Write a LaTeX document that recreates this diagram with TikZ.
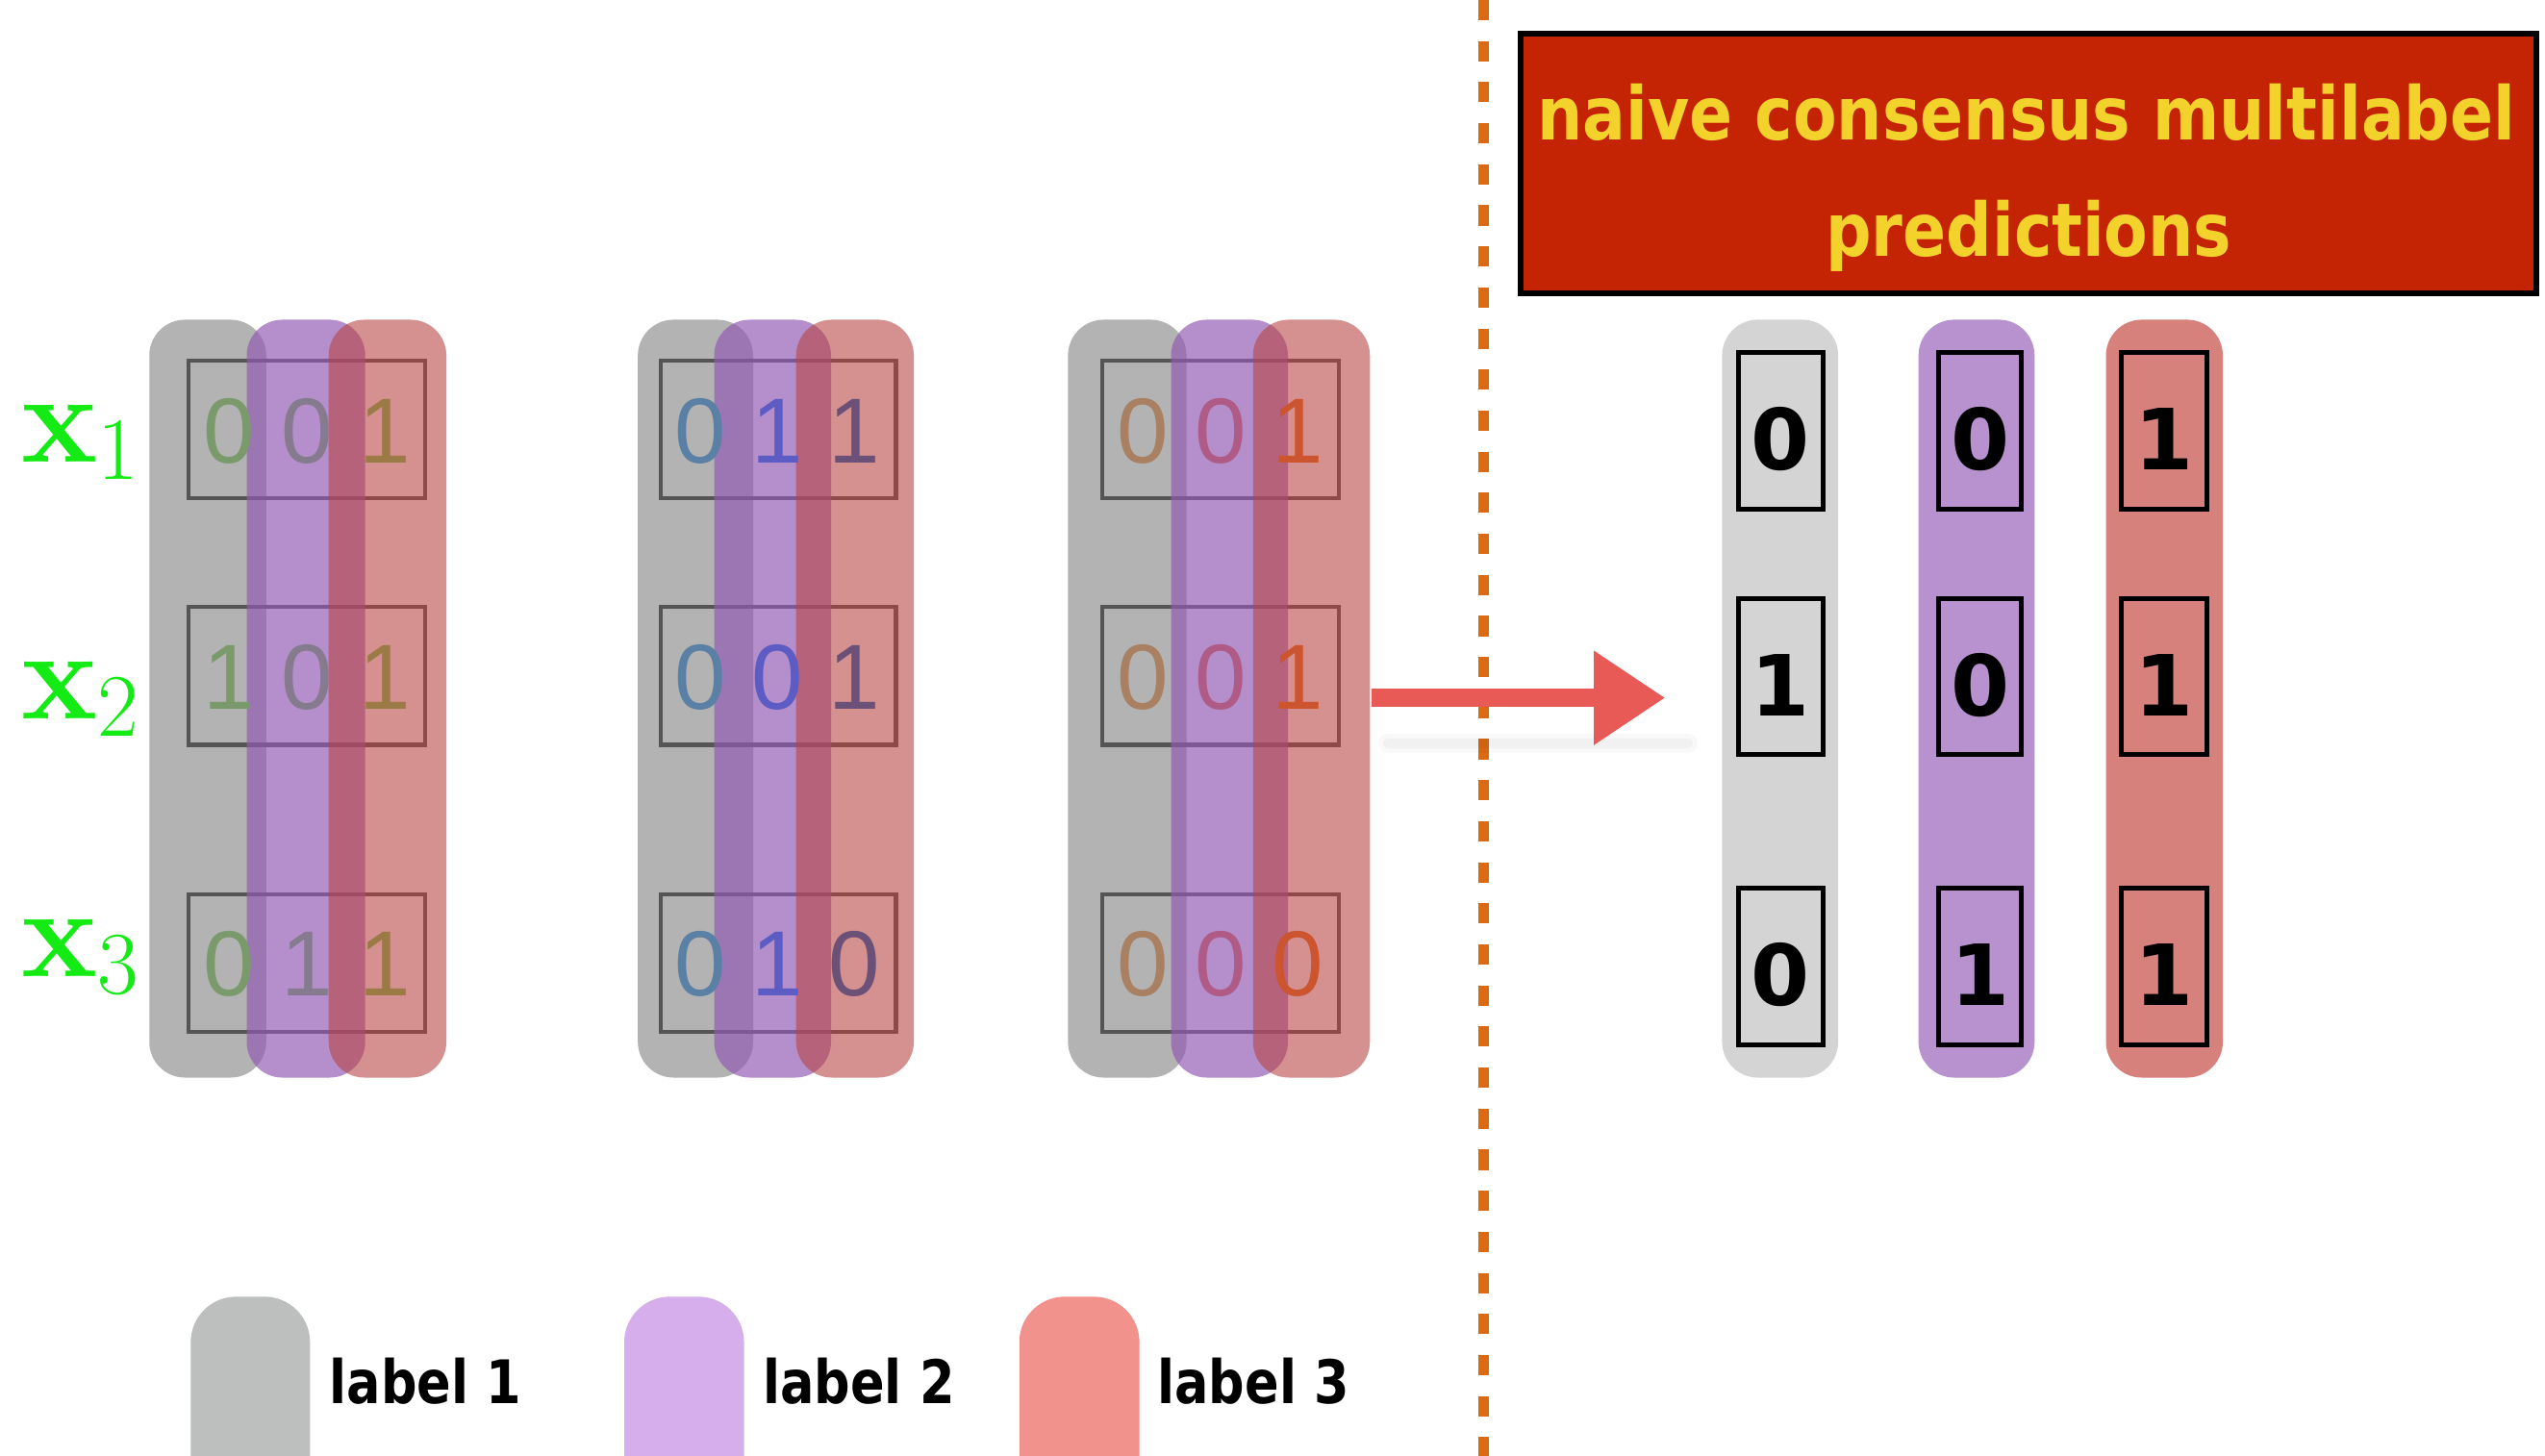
\documentclass[tikz,border=0pt]{standalone}
\usepackage{fontspec}
\usetikzlibrary{arrows.meta}
\newfontfamily\helvfont{Liberation Sans}
\newfontfamily\comicfont{DejaVu Sans}
\definecolor{barGray}{RGB}{178,179,178}
\definecolor{purpOv}{RGB}{145,90,180}
\definecolor{redOv}{RGB}{184,67,64}
\definecolor{boxGray}{RGB}{85,85,85}
\definecolor{resGray}{RGB}{211,212,211}
\definecolor{resPurp}{RGB}{184,145,207}
\definecolor{resRed}{RGB}{214,129,124}
\definecolor{titleRed}{RGB}{197,36,4}
\definecolor{titleYellow}{RGB}{244,210,44}
\definecolor{dashOrange}{RGB}{220,106,18}
\definecolor{arrowRed}{RGB}{232,90,85}
\definecolor{xgreen}{RGB}{20,235,20}
\definecolor{legGray}{RGB}{188,191,190}
\definecolor{legPurp}{RGB}{214,174,236}
\definecolor{legRed}{RGB}{242,146,140}
\definecolor{gAa}{RGB}{123,154,108}
\definecolor{gAb}{RGB}{134,123,142}
\definecolor{gAc}{RGB}{156,122,69}
\definecolor{gBa}{RGB}{90,128,166}
\definecolor{gBb}{RGB}{92,92,196}
\definecolor{gBc}{RGB}{107,80,119}
\definecolor{gCa}{RGB}{169,128,98}
\definecolor{gCb}{RGB}{176,90,134}
\definecolor{gCc}{RGB}{204,85,48}
\newcommand\xsub[1]{{\bfseries x}\raisebox{-10.7pt}{\fontsize{55}{58}\selectfont #1}}
\begin{document}
\begin{tikzpicture}[x=1pt,y=-1pt,
  lgray/.style={fill=barGray, rounded corners=22pt},
  lpurp/.style={fill=purpOv, fill opacity=.68, rounded corners=22pt},
  lred/.style={fill=redOv, fill opacity=.58, rounded corners=22pt},
  lbox/.style={draw=boxGray, line width=2.5pt},
  ldig/.style={inner sep=0pt, font=\helvfont\fontsize{57}{60}\selectfont},
  rbar/.style={rounded corners=22pt},
  rbox/.style={draw=black, line width=3pt},
  rdig/.style={inner sep=0pt, font=\comicfont\bfseries\fontsize{52}{56}\selectfont},
  xlab/.style={anchor=base west, inner sep=0pt, text=xgreen, font=\fontsize{79}{82}\selectfont},
  legbar/.style={rounded corners=28pt},
  legtext/.style={anchor=base west, inner sep=0pt, font=\comicfont\bfseries\fontsize{37}{40}\selectfont},
  titletext/.style={anchor=base, inner sep=0pt, text=titleYellow, font=\comicfont\bfseries\fontsize{45.5}{48}\selectfont}
]
\useasboundingbox (0,0) rectangle (1568,897);
\clip (0,0) rectangle (1568,897);
\fill[white] (0,0) rectangle (1568,897);

% ---- left groups: gray bars
\fill[lgray] (92,197) rectangle (164,664);
\fill[lgray] (393,197) rectangle (464,664);
\fill[lgray] (658,197) rectangle (731,664);
% boxes
\foreach \bx/\ex in {116/262, 407/552, 679/825}{
  \foreach \ya/\yb in {222/307, 374/459, 551/636}{
    \draw[lbox] (\bx,\ya) rectangle (\ex,\yb);
  }
}
% purple and red overlays
\fill[lpurp] (152,197) rectangle (225,664);
\fill[lpurp] (440,197) rectangle (512,664);
\fill[lpurp] (721.5,197) rectangle (793.5,664);
\fill[lred] (202.5,197) rectangle (275,664);
\fill[lred] (490.5,197) rectangle (563,664);
\fill[lred] (772,197) rectangle (844,664);

% digits
\foreach \n/\x/\y/\d/\c in {
  a11/141/266/0/gAa, a12/189/266/0/gAb, a13/237/266/1/gAc,
  a21/141/417.5/1/gAa, a22/189/417.5/0/gAb, a23/237/417.5/1/gAc,
  a31/141/594/0/gAa, a32/189/594/1/gAb, a33/237/594/1/gAc,
  b11/431.7/266/0/gBa, b12/478.7/266/1/gBb, b13/526.4/266/1/gBc,
  b21/431.7/417.5/0/gBa, b22/478.7/417.5/0/gBb, b23/526.4/417.5/1/gBc,
  b31/431.7/594/0/gBa, b32/478.7/594/1/gBb, b33/526.4/594/0/gBc,
  c11/704.3/266/0/gCa, c12/752/266/0/gCb, c13/799.5/266/1/gCc,
  c21/704.3/417.5/0/gCa, c22/752/417.5/0/gCb, c23/799.5/417.5/1/gCc,
  c31/704.3/594/0/gCa, c32/752/594/0/gCb, c33/799.5/594/0/gCc}{
  \node[ldig, text=\c] (\n) at (\x,\y) {\d};
}

% x labels
\node[xlab] (x1) at (13,284.8) {\xsub{1}};
\node[xlab] (x2) at (13,443) {\xsub{2}};
\node[xlab] (x3) at (13,602) {\xsub{3}};

% ---- dashed separator
\draw[dashOrange, line width=6.5pt, dash pattern=on 12.5pt off 12.8pt] (913.8,0) -- (913.8,897);

% ---- arrow
\coordinate (arrS) at (845,430);
\coordinate (arrE) at (1026,430);
\coordinate (shS) at (855,458);
\coordinate (shE) at (1040,458);
\draw[black, opacity=.025, line width=12pt, line cap=round] (shS) -- (shE);
\draw[black, opacity=.03, line width=6pt, line cap=round] (shS) -- (shE);
\draw[arrowRed, line width=11pt, -{Triangle[length=44pt,width=55pt]}] (arrS) -- (arrE);

% ---- title
\node[draw=black, line width=3.5pt, fill=titleRed, minimum width=625.5pt, minimum height=160pt, inner sep=0pt] (title) at (1249.75,100.5) {};
\node[titletext] (t1) at (1248.5,86) {\scalebox{0.865}[1]{naive consensus multilabel}};
\node[titletext] (t2) at (1250,158) {\scalebox{0.865}[1]{predictions}};

% ---- result columns
\fill[resGray, rbar] (1061,197) rectangle (1132.5,664);
\fill[resPurp, rbar] (1182,197) rectangle (1253.5,664);
\fill[resRed, rbar] (1297.5,197) rectangle (1369.5,664);
\foreach \bx/\ex in {1071/1123, 1194.5/1245.5, 1307/1359.5}{
  \foreach \ya/\yb in {217/313.6, 368.7/464.8, 547/643.6}{
    \draw[rbox] (\bx,\ya) rectangle (\ex,\yb);
  }
}
\foreach \n/\x/\y/\d in {
  r11/1097/270.7/0, r21/1097/422/1, r31/1097/600.6/0,
  r12/1220/270.7/0, r22/1220/422/0, r32/1220/600.6/1,
  r13/1333.3/270.7/1, r23/1333.3/422/1, r33/1333.3/600.6/1}{
  \node[rdig] (\n) at (\x,\y) {\d};
}

% ---- legend
\fill[legGray, legbar] (117.5,799) rectangle (191,940);
\fill[legPurp, legbar] (384.6,799) rectangle (458.4,940);
\fill[legRed, legbar] (628,799) rectangle (702,940);
\node[legtext] (l1) at (203,865) {\scalebox{0.84}[1]{label 1}};
\node[legtext] (l2) at (470,865) {\scalebox{0.84}[1]{label 2}};
\node[legtext] (l3) at (713,865) {\scalebox{0.84}[1]{label 3}};
\end{tikzpicture}
\end{document}
